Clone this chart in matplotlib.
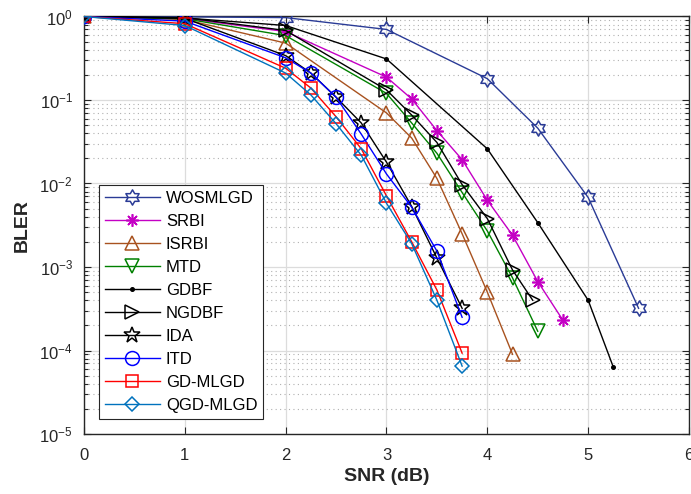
import numpy as np
import matplotlib
matplotlib.use("Agg")
import matplotlib.pyplot as plt
from matplotlib.path import Path
from matplotlib.ticker import LogLocator, NullFormatter, FixedLocator

plt.rcParams['font.family'] = ['Liberation Sans', 'DejaVu Sans']
plt.rcParams['mathtext.fontset'] = 'custom'
plt.rcParams['mathtext.rm'] = 'Liberation Sans'
plt.rcParams['mathtext.it'] = 'Liberation Sans'
plt.rcParams['mathtext.bf'] = 'Liberation Sans:bold'

# ---------------- data ----------------
labels = ["WOSMLGD", "SRBI", "ISRBI", "MTD", "GDBF", "NGDBF", "IDA", "ITD", "GD-MLGD", "QGD-MLGD"]

x_wosmlgd = [0, 1, 2, 3, 4, 4.5, 5, 5.5]
y_wosmlgd = [1.0, 0.99, 0.97, 0.70, 0.18, 0.046, 0.0068, 3.2e-4]

x_srbi = [0, 1, 2, 3, 3.25, 3.5, 3.75, 4, 4.25, 4.5, 4.75]
y_srbi = [1.0, 0.95, 0.66, 0.188, 0.103, 0.043, 0.0193, 0.0063, 0.0024, 6.7e-4, 2.3e-4]

x_isrbi = [0, 1, 2, 3, 3.25, 3.5, 3.75, 4, 4.25]
y_isrbi = [1.0, 0.92, 0.48, 0.070, 0.035, 0.0115, 0.0025, 5.0e-4, 9.0e-5]

x_mtd = [0, 1, 2, 3, 3.25, 3.5, 3.75, 4, 4.25, 4.5]
y_mtd = [1.0, 0.94, 0.59, 0.12, 0.053, 0.023, 0.0078, 0.0027, 7.4e-4, 1.7e-4]

x_gdbf = [0, 1, 2, 3, 4, 4.5, 5, 5.25]
y_gdbf = [1.0, 0.96, 0.78, 0.31, 0.026, 0.0034, 4.0e-4, 6.3e-5]

x_ngdbf = [0, 1, 2, 3, 3.25, 3.5, 3.75, 4, 4.25, 4.45]
y_ngdbf = [1.0, 0.97, 0.68, 0.132, 0.066, 0.031, 0.0097, 0.0038, 9.2e-4, 4.0e-4]

x_ida = [0, 1, 2, 2.25, 2.5, 2.75, 3, 3.25, 3.5, 3.75]
y_ida = [1.0, 0.95, 0.34, 0.21, 0.108, 0.053, 0.018, 0.0053, 0.00128, 3.2e-4]

x_itd = [0, 1, 2, 2.25, 2.5, 2.75, 3, 3.25, 3.5, 3.75]
y_itd = [1.0, 0.88, 0.32, 0.21, 0.108, 0.039, 0.013, 0.0052, 0.00155, 2.5e-4]

x_gdmlgd = [0, 1, 2, 2.25, 2.5, 2.75, 3, 3.25, 3.5, 3.75]
y_gdmlgd = [1.0, 0.82, 0.24, 0.139, 0.063, 0.026, 0.0071, 0.0020, 5.3e-4, 9.3e-5]

x_qgdmlgd = [0, 1, 2, 2.25, 2.5, 2.75, 3, 3.25, 3.5, 3.75]
y_qgdmlgd = [1.0, 0.78, 0.21, 0.115, 0.052, 0.0218, 0.0058, 0.0019, 4.0e-4, 6.5e-5]

x_ticks = [0, 1, 2, 3, 4, 5, 6]

# ---------------- hexagram marker ----------------
ang = np.pi / 2 + np.arange(12) * np.pi / 6
rad = np.where(np.arange(12) % 2 == 0, 1.0, 1.0 / np.sqrt(3))
hv = np.column_stack([rad * np.cos(ang), rad * np.sin(ang)])
hv = np.vstack([hv, hv[:1]])
hexagram = Path(hv, closed=True)

series = [
    (x_wosmlgd, y_wosmlgd, dict(color='#2a3b96', marker=hexagram, ms=11)),
    (x_srbi, y_srbi, dict(color='#c400c4', marker=(8, 2, 0), ms=9, mew=1.2)),
    (x_isrbi, y_isrbi, dict(color='#a8521f', marker='^', ms=10)),
    (x_mtd, y_mtd, dict(color='#008000', marker='v', ms=10)),
    (x_gdbf, y_gdbf, dict(color='black', marker='.', ms=5)),
    (x_ngdbf, y_ngdbf, dict(color='black', marker='>', ms=10)),
    (x_ida, y_ida, dict(color='black', marker='*', ms=12)),
    (x_itd, y_itd, dict(color='#0000ff', marker='o', ms=10)),
    (x_gdmlgd, y_gdmlgd, dict(color='#ff0000', marker='s', ms=8)),
    (x_qgdmlgd, y_qgdmlgd, dict(color='#0072bd', marker='D', ms=7.5)),
]

fig = plt.figure(figsize=(6.91, 4.94), dpi=100)
ax = fig.add_axes([84 / 691, 60 / 494, 605 / 691, 417.5 / 494])

for (xs, ys, st), lab in zip(series, labels):
    c = st['color']
    face = c if st['marker'] == '.' else 'none'
    ax.plot(xs, ys, color=c, lw=1.0, marker=st['marker'], ms=st['ms'],
            mfc=face, mec=c, mew=st.get('mew', 1.1), label=lab, zorder=3)

ax.set_yscale('log')
ax.set_xlim(0, 6)
ax.set_ylim(1e-5, 1)
ax.xaxis.set_major_locator(FixedLocator(x_ticks))
ax.yaxis.set_major_locator(LogLocator(base=10, numticks=10))
ax.yaxis.set_minor_locator(LogLocator(base=10, subs=np.arange(2, 10), numticks=20))
ax.yaxis.set_minor_formatter(NullFormatter())

ax.grid(True, which='major', color='#dcdcdc', lw=0.9, ls='-', zorder=0)
ax.grid(True, which='minor', axis='y', color='#b0b0b0', lw=0.8, ls=(0, (1, 3)), zorder=0)
ax.set_axisbelow(True)

ax.tick_params(which='both', direction='in', top=True, right=True, labelsize=12,
               colors='#262626', width=0.8)
ax.tick_params(which='major', length=5)
ax.tick_params(which='minor', length=3)
ax.tick_params(axis='x', which='major', pad=10)
ax.tick_params(axis='y', which='major', pad=8)
for sp in ax.spines.values():
    sp.set_color('#262626')
    sp.set_linewidth(1.0)

ax.set_xlabel('SNR (dB)', fontsize=14, fontweight='bold', color='#262626', labelpad=4)
ax.set_ylabel('BLER', fontsize=14, fontweight='bold', color='#262626', labelpad=6)

leg = ax.legend(loc='lower left', bbox_to_anchor=(0.025, 0.036), borderaxespad=0,
                fontsize=12, frameon=True, fancybox=False, framealpha=1,
                edgecolor='#262626', handlelength=3.3, handletextpad=0.35,
                labelspacing=0.48, borderpad=0.35, numpoints=1)
leg.get_frame().set_linewidth(0.8)

fig.savefig('out.png', dpi=100)
